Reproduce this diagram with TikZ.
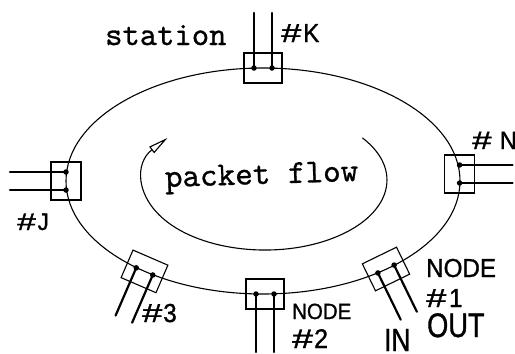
\documentclass[tikz,border=0pt]{standalone}
\usepackage{fontspec}
\usepackage{graphicx}
\newfontfamily\lbfont{Liberation Sans}[FakeBold=1.2]
\newfontfamily\twfont{lmmono10-regular.otf}[FakeBold=0.8]
\newcommand\hash{\scalebox{1.5}[1]{\#}}
\usetikzlibrary{arrows.meta,shapes.geometric}
\newcommand\ringstation[5]{% name, x, y, outward normal angle, tap length
  \begin{scope}[shift={(#2,#3)}, rotate=#4-90]
    \node[stabox] (#1) at (0,0) {};
    \node[tapdot] (#1a) at (-9,0) {};
    \node[tapdot] (#1b) at (9,0) {};
    \coordinate (#1ae) at (-9,#5);
    \coordinate (#1be) at (9,#5);
    \draw[tap] (#1a.center) -- (#1ae);
    \draw[tap] (#1b.center) -- (#1be);
  \end{scope}}
\begin{document}
\begin{tikzpicture}[x=1pt,y=1pt,
  ring/.style={draw, line width=1.1pt},
  stabox/.style={draw, line width=1.1pt, minimum width=38pt, minimum height=30pt, inner sep=0pt, transform shape},
  tapdot/.style={circle, fill, inner sep=0pt, minimum size=5.5pt},
  tap/.style={line width=2.2pt, line cap=round},
  lbl/.style={inner sep=0pt, anchor=base west, xscale=0.93, font=\lbfont\fontsize{#1}{#1}\selectfont},
  tw/.style={inner sep=0pt, anchor=base west, font=\twfont\fontsize{#1}{#1}\selectfont},
]
\path[use as bounding box] (0,0) rectangle (515,-354);
\node[ring, ellipse, minimum width=394pt, minimum height=226pt, inner sep=0pt] (ring) at (263,-181) {};

\ringstation{K}{263}{-68}{90}{55}
\ringstation{N}{459.6}{-174}{0}{53}
\ringstation{J}{66}{-181}{180}{56}
\ringstation{S2}{265}{-294}{-90}{58}
\ringstation{S3}{144.5}{-271.4}{-113.4}{52}
\ringstation{S1}{386}{-269}{-64}{52}

\coordinate (flowstart) at (362.4,-137.9);
\draw[line width=1.1pt, -{Triangle[open, length=20pt, width=8pt, line width=1.1pt]}]
  (flowstart) arc[start angle=37, end angle=-217, x radius=122, y radius=70];

\node[tw=33] (stationlbl) at (105,-45) {station};
\node[tw=33.5, rotate=1.8] (flowlbl) at (165,-187) {packet flow};

\node[lbl=26] (lK) at (281,-42) {\hash\kern2pt K};
\node[lbl=25] (lN) at (472,-149) {\hash\kern9pt N};
\node[lbl=24] (lJ) at (17,-230) {\hash\kern2pt J};
\node[lbl=26] (l3) at (142,-322) {\hash\kern1pt 3};
\node[lbl=22] (lnode2) at (292,-319) {NODE};
\node[lbl=27] (l2) at (292,-348) {\hash\kern1pt 2};
\node[lbl=26] (lnode1) at (426,-277) {NODE};
\node[lbl=26] (l1) at (426,-307) {\hash\kern3pt 1};
\node[lbl=34, xscale=0.8/0.93] (lout) at (427,-337) {OUT};
\node[lbl=32, xscale=0.82/0.93] (lin) at (384,-351) {IN};
\end{tikzpicture}
\end{document}
